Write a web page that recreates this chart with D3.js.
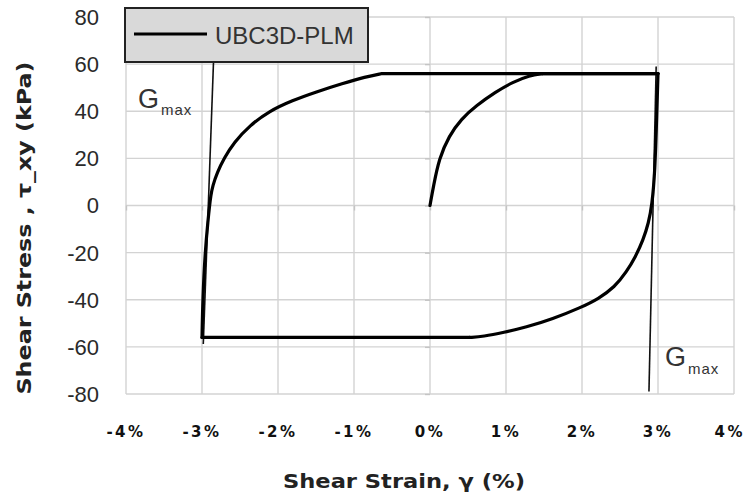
<!DOCTYPE html>
<html lang="en">
  <head>
    <meta charset="utf-8">
    <title>UBC3D-PLM shear loop</title>
    <script type="text/javascript" src="https://d3js.org/d3.v7.min.js"></script>
    <style type="text/css">
    body {
      margin: 0;
      background: white;
    }
    .grid line {
      stroke: #d3d3d3;
      stroke-width: 1.4px;
    }
    .ytick {
      font-family: "Liberation Sans", Arial, sans-serif;
      font-size: 22px;
      fill: #2a2a2a;
    }
    .xtick {
      font-family: "DejaVu Sans", sans-serif;
      font-weight: bold;
      font-size: 15px;
      letter-spacing: 2.5px;
      fill: #111;
    }
    .axistitle {
      font-family: "DejaVu Sans", sans-serif;
      font-weight: bold;
      font-size: 20px;
      fill: #222;
    }
    .gmax {
      font-family: "Liberation Sans", Arial, sans-serif;
      fill: #333;
    }
    </style>
  </head>
  <body>
    <svg width="747" height="500" id="chart"></svg>

    <script type="text/javascript">

// axis ticks
    const strainTicks = [-4, -3, -2, -1, 0, 1, 2, 3, 4];
    const stressTicks = [-80, -60, -40, -20, 0, 20, 40, 60, 80];

// first loading from rest
    const initialStrain = [0, 0.045, 0.12, 0.25, 0.41, 0.61, 0.86, 1.09, 1.31, 1.48, 3.0];
    const initialStress = [0, 8.1, 20, 29.5, 36.7, 42.4, 48.1, 52.4, 55.2, 56, 56];

// unloading branch (listed from -3% up to the +3% reversal point)
    const unloadStrain = [-3.0, 0.52, 0.70, 0.97, 1.26, 1.61, 1.99, 2.215, 2.43, 2.585, 2.705, 2.805, 2.875, 2.92, 2.96, 2.985, 3.0];
    const unloadStress = [-56, -56, -55.6, -53.9, -51.7, -48.2, -43.2, -39.6, -34.6, -28.2, -21.7, -14.6, -7.5, 0, 14, 40, 56];

// reloading branch
    const reloadStrain = [-3.0, -2.99, -2.96, -2.92, -2.90, -2.885, -2.86, -2.80, -2.71, -2.58, -2.37, -2.12, -1.81, -1.5, -1.15, -0.85, -0.63, 3.0];
    const reloadStress = [-56, -40, -20, -6, 0, 4, 8.3, 14, 20, 26.8, 34, 40, 44.6, 48.2, 51.8, 54.6, 56, 56];

// Gmax tangent lines
    const gmaxLeftStrain = [-2.846, -2.983];
    const gmaxLeftStress = [63.3, -58.8];
    const gmaxRightStrain = [2.976, 2.881];
    const gmaxRightStress = [59, -78.9];

    const seriesName = "UBC3D-PLM";

    const svg = d3.select("#chart");

    const xScale = d3.scaleLinear()
        .domain([-4, 4])
        .range([126, 734]);

    const yScale = d3.scaleLinear()
        .domain([-80, 80])
        .range([394, 17]);

    // gridlines
    const grid = svg.append("g").attr("class", "grid");
    grid.selectAll(".vg")
        .data(strainTicks)
        .enter()
        .append("line")
        .attr("class", "vg")
        .attr("x1", d => xScale(d))
        .attr("x2", d => xScale(d))
        .attr("y1", yScale(80))
        .attr("y2", yScale(-80));
    grid.selectAll(".hg")
        .data(stressTicks)
        .enter()
        .append("line")
        .attr("class", "hg")
        .attr("x1", xScale(-4))
        .attr("x2", xScale(4))
        .attr("y1", d => yScale(d))
        .attr("y2", d => yScale(d));

    // axes cross at zero, small outside ticks only
    const xAxis = d3.axisBottom(xScale).tickValues(strainTicks).tickSize(5).tickFormat("");
    const yAxis = d3.axisLeft(yScale).tickValues(stressTicks).tickSize(5).tickFormat("");

    svg.append("g")
        .attr("transform", "translate(0," + yScale(0) + ")")
        .call(xAxis)
        .call(g => g.select(".domain").remove())
        .selectAll("line").attr("stroke", "#c4c4c4").attr("stroke-width", 1.4);

    svg.append("g")
        .attr("transform", "translate(" + xScale(0) + ",0)")
        .call(yAxis)
        .call(g => g.select(".domain").remove())
        .selectAll("line").attr("stroke", "#c4c4c4").attr("stroke-width", 1.4);

    // tick labels
    svg.selectAll(".ytick")
        .data(stressTicks)
        .enter()
        .append("text")
        .attr("class", "ytick")
        .attr("text-anchor", "end")
        .attr("x", 99)
        .attr("y", d => yScale(d))
        .attr("dy", "0.36em")
        .text(d => d);

    svg.selectAll(".xtick")
        .data(strainTicks)
        .enter()
        .append("text")
        .attr("class", "xtick")
        .attr("text-anchor", "middle")
        .attr("x", d => xScale(d))
        .attr("y", 437)
        .text(d => d + "%")
        // keep the last label inside the page
        .each(function() {
          const box = this.getBBox();
          if (box.x + box.width > 745) {
            d3.select(this).attr("x", +d3.select(this).attr("x") - (box.x + box.width - 745));
          }
        });

    // axis titles
    svg.append("text")
        .attr("class", "axistitle")
        .attr("text-anchor", "middle")
        .attr("x", 404)
        .attr("y", 488)
        .attr("textLength", 242)
        .attr("lengthAdjust", "spacingAndGlyphs")
        .text("Shear Strain, \u03b3 (%)");

    svg.append("text")
        .attr("class", "axistitle")
        .attr("text-anchor", "middle")
        .attr("transform", "translate(31,228) rotate(-90)")
        .attr("textLength", 333)
        .attr("lengthAdjust", "spacingAndGlyphs")
        .text("Shear Stress , \u03c4_xy (kPa)");

    // Gmax lines
    const gmaxLines = [
      d3.zip(gmaxLeftStrain, gmaxLeftStress),
      d3.zip(gmaxRightStrain, gmaxRightStress)
    ];
    const straight = d3.line()
        .x(d => xScale(d[0]))
        .y(d => yScale(d[1]));

    svg.selectAll(".gline")
        .data(gmaxLines)
        .enter()
        .append("path")
        .attr("class", "gline")
        .attr("d", straight)
        .attr("fill", "none")
        .attr("stroke", "#111")
        .attr("stroke-width", 1.6);

    // hysteresis loop: curved parts smoothed, the plateaus at +-56 kPa straight
    const curved = d3.line()
        .curve(d3.curveBasis)
        .x(d => xScale(d[0]))
        .y(d => yScale(d[1]));

    const branches = [
      d3.zip(initialStrain, initialStress),
      d3.zip(unloadStrain, unloadStress),
      d3.zip(reloadStrain, reloadStress)
    ];

    const pieces = [];
    branches.forEach(pts => {
      const ys = pts.map(p => p[1]);
      const lo = d3.min(ys), hi = d3.max(ys);
      // leading flat run at the minimum, trailing flat run at the maximum
      let a = 0;
      while (a + 1 < pts.length && pts[a + 1][1] === lo && pts[a][1] === lo) a++;
      let b = pts.length - 1;
      while (b - 1 >= 0 && pts[b - 1][1] === hi && pts[b][1] === hi) b--;
      if (a > 0) pieces.push({pts: pts.slice(0, a + 1), gen: straight});
      pieces.push({pts: pts.slice(a, b + 1), gen: curved});
      if (b < pts.length - 1) pieces.push({pts: pts.slice(b), gen: straight});
    });

    svg.selectAll(".branch")
        .data(pieces)
        .enter()
        .append("path")
        .attr("class", "branch")
        .attr("d", d => d.gen(d.pts))
        .attr("fill", "none")
        .attr("stroke", "black")
        .attr("stroke-width", 3.2)
        .attr("stroke-linecap", "round")
        .attr("stroke-linejoin", "round");

    // Gmax labels
    const gLabels = [
      {x: 138, y: 108, sx: 161, sy: 115},
      {x: 665, y: 366, sx: 688, sy: 374}
    ];
    gLabels.forEach(p => {
      svg.append("text")
          .attr("class", "gmax")
          .attr("x", p.x)
          .attr("y", p.y)
          .style("font-size", "27px")
          .text("G");
      svg.append("text")
          .attr("class", "gmax")
          .attr("x", p.sx)
          .attr("y", p.sy)
          .style("font-size", "15px")
          .style("letter-spacing", "1px")
          .text("max");
    });

    // legend
    const legend = svg.append("g");
    legend.append("rect")
        .attr("x", 125)
        .attr("y", 8)
        .attr("width", 243)
        .attr("height", 54)
        .attr("fill", "#d9d9d9")
        .attr("stroke", "#222")
        .attr("stroke-width", 2);
    legend.append("line")
        .attr("x1", 134)
        .attr("x2", 207)
        .attr("y1", 34)
        .attr("y2", 34)
        .attr("stroke", "black")
        .attr("stroke-width", 3.2);
    legend.append("text")
        .attr("x", 215)
        .attr("y", 44)
        .style("font-family", "'Liberation Sans', Arial, sans-serif")
        .style("font-size", "24px")
        .style("fill", "#333")
        .text(seriesName);

    </script>
  </body>
</html>
